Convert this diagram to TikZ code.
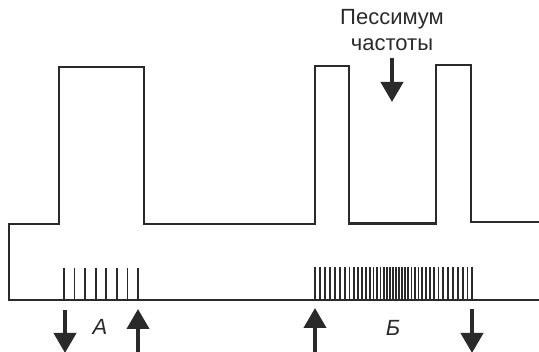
\documentclass[tikz,border=0pt]{standalone}
\usepackage{fontspec}
\setmainfont{Liberation Sans}
\usetikzlibrary{arrows.meta}
\definecolor{ink}{HTML}{2A2A2A}
\tikzset{
  outline/.style={draw=ink, line width=1.3pt, line join=miter},
  tick/.style={draw=ink, line width=1.6pt},
  bigarrow/.style={draw=ink, line width=4pt, -{Triangle[width=22pt,length=20pt]}},
  caption/.style={font=\fontsize{22}{24}\selectfont, text=ink, inner sep=0pt},
  zonelabel/.style={font=\fontsize{22}{24}\selectfont\itshape, text=ink, inner sep=0pt}
}
\begin{document}
\begin{tikzpicture}[x=1pt,y=-1pt]
\useasboundingbox (0,0) rectangle (539,352);
% outline
\draw[outline] (539,222) -- (471,222) -- (471,65) -- (436,65) -- (436,224)
  -- (349,224) -- (349,66) -- (315,66) -- (315,224) -- (144,224) -- (144,67)
  -- (59,67) -- (59,224) -- (9,224) -- (9,300) -- (539,300);
% thick segment between pulses
\draw[draw=ink, line width=3.5pt] (350,223.5) -- (435,223.5);
% ticks A
\foreach \x in {0,...,7} {
  \draw[tick] ({64+\x*10.57},268) -- ({64+\x*10.57},300);
}
% ticks B
\foreach \x in {315,320,325,330,335,340,345,349.5,354,358,362,366,370,373.5,377,380.5,384,387,390,393,396,399,402,405,408,411.5,415,418.5,422,426,430,434,438.5,443,448,453,458,463,467.5,472} {
  \draw[tick] (\x,267) -- (\x,300);
}
% captions
\node[caption] (t1) at (392,19) {Пессимум};
\node[caption] (t2) at (392,45) {частоты};
\node[zonelabel] (la) at (100,327) {А};
\node[zonelabel] (lb) at (393,328) {Б};
% arrows
\coordinate (p0) at (392,58); \coordinate (p1) at (392,102);
\draw[bigarrow] (p0) -- (p1);
\coordinate (a0) at (65,310); \coordinate (a1) at (65,353);
\draw[bigarrow] (a0) -- (a1);
\coordinate (b0) at (138,353); \coordinate (b1) at (138,309);
\draw[bigarrow] (b0) -- (b1);
\coordinate (c0) at (315,353); \coordinate (c1) at (315,308);
\draw[bigarrow] (c0) -- (c1);
\coordinate (d0) at (472,309); \coordinate (d1) at (472,353);
\draw[bigarrow] (d0) -- (d1);
\end{tikzpicture}
\end{document}
